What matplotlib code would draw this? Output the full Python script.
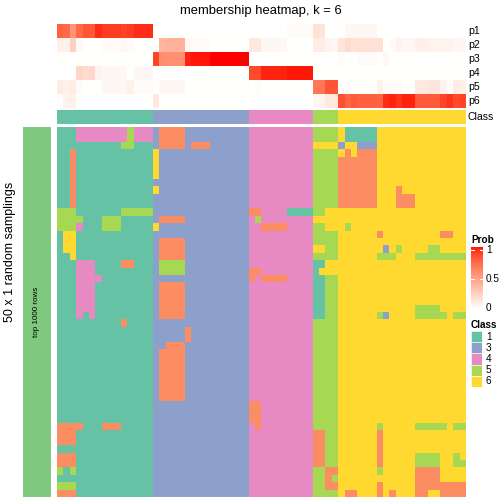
import numpy as np
import matplotlib
matplotlib.use("Agg")
import matplotlib.pyplot as plt
from matplotlib.colors import ListedColormap, LinearSegmentedColormap

plt.rcParams['font.family'] = ['Liberation Sans', 'DejaVu Sans']

# class of each column (consensus classes)
col_class = [1] * 15 + [3] * 15 + [4] * 10 + [5] * 4 + [6] * 20

# membership probabilities, one list per class row p1..p6 (64 columns)
p1 = [0.78, 0.74, 0.54, 0.74, 0.82, 0.80, 0.94, 0.90, 0.90, 0.90, 0.88, 0.90, 0.94, 0.94, 0.94,
      0, 0, 0, 0, 0, 0, 0, 0, 0, 0, 0, 0, 0, 0, 0,
      0, 0, 0, 0, 0, 0, 0.02, 0.02, 0.02, 0.02,
      0.16, 0.14, 0, 0,
      0, 0.04, 0.04, 0.04, 0.04, 0.04, 0, 0, 0, 0, 0, 0, 0, 0, 0, 0, 0, 0, 0, 0]
p2 = [0.08, 0.08, 0.24, 0.03, 0, 0, 0, 0.03, 0.03, 0.03, 0.04, 0.02, 0, 0, 0,
      0, 0.38, 0.40, 0.40, 0.40, 0.04, 0.02, 0.02, 0.02, 0, 0, 0, 0, 0, 0,
      0.12, 0.12, 0.04, 0.04, 0.04, 0.04, 0, 0, 0, 0,
      0.10, 0.10, 0.06, 0.04,
      0.14, 0.18, 0.16, 0.16, 0.16, 0.16, 0.16, 0, 0.02, 0.06, 0.04, 0.04, 0.08, 0.08, 0.06, 0.06,
      0.06, 0.06, 0.04, 0.04]
p3 = [0, 0, 0, 0, 0, 0, 0, 0, 0, 0, 0, 0, 0, 0, 0,
      0.88, 0.58, 0.56, 0.56, 0.56, 0.96, 0.98, 0.98, 0.98, 1, 1, 1, 1, 1, 1,
      0, 0, 0, 0, 0, 0, 0, 0, 0, 0,
      0, 0, 0, 0,
      0.02, 0, 0, 0.02, 0.02, 0.02, 0, 0.04, 0, 0, 0, 0, 0, 0, 0, 0, 0, 0, 0, 0]
p4 = [0, 0, 0, 0.22, 0.18, 0.20, 0.06, 0.04, 0.04, 0.04, 0.04, 0, 0.04, 0.04, 0.04,
      0, 0, 0, 0, 0, 0, 0, 0, 0, 0, 0, 0, 0, 0, 0,
      0.86, 0.86, 0.96, 0.96, 0.96, 0.96, 0.98, 0.98, 0.98, 0.98,
      0, 0, 0, 0,
      0, 0, 0, 0, 0, 0, 0, 0, 0, 0, 0, 0, 0, 0, 0, 0, 0, 0, 0, 0]
p5 = [0.10, 0.08, 0.10, 0.02, 0, 0, 0, 0.04, 0.04, 0.04, 0.04, 0.08, 0.02, 0.02, 0.02,
      0, 0.04, 0.04, 0.04, 0.04, 0, 0, 0, 0, 0, 0, 0, 0, 0, 0,
      0, 0.02, 0, 0, 0, 0, 0, 0, 0, 0,
      0.68, 0.68, 0.82, 0.82,
      0, 0.02, 0, 0, 0, 0, 0.08, 0.02, 0.02, 0.02, 0, 0, 0.12, 0.12, 0.14, 0.14,
      0.06, 0.02, 0.10, 0.08]
p6 = [0, 0.06, 0.08, 0, 0, 0, 0, 0, 0, 0, 0, 0, 0, 0, 0,
      0.12, 0, 0, 0, 0, 0, 0, 0, 0, 0, 0, 0, 0, 0, 0,
      0, 0, 0, 0, 0, 0, 0, 0, 0, 0,
      0.04, 0.06, 0.12, 0.12,
      0.84, 0.76, 0.80, 0.78, 0.78, 0.78, 0.76, 0.94, 0.96, 0.92, 0.96, 0.96, 0.80, 0.80, 0.80, 0.80,
      0.88, 0.92, 0.86, 0.88]

# class assignment in each of the 50 random samplings (rows), groups split by '|'
sampling_rows = [
    "111444444445444|322223333333333|4444444444|5555|61111166666666666666",
    "111444444445444|322223333333333|4444444444|5555|61111166666666666666",
    "111111111155111|322223222333333|4444444444|6666|36633366666666666666",
    "112111111111111|633333333333333|4444444444|5555|62622266666666666666",
    "112111111111111|633333333333333|4444444444|5555|22222266666666666666",
    "112111111111111|633333333333333|4444444444|5555|22222266666666666666",
    "112111111111111|633333333333333|4444444444|5555|22222266666666666666",
    "112111111111111|333333333333333|4444444444|5555|22222266666666666666",
    "112111111111111|633333333333333|4444444444|5555|22222266626666666666",
    "112111111111111|333333333333333|4444444444|5555|22222266622266666666",
    "112111111111111|333333333333333|4444444444|5555|22222266622266666666",
    "555111111155555|333333333333333|2244441111|5566|66666666666666666666",
    "555511155511111|322223333333333|4544444444|6666|66666666666666666666",
    "555411155511111|633333333333333|4422224444|5566|65666666666666666666",
    "166111111111111|333333333333333|4444444444|5555|66666626666666662266",
    "166111111111111|322223333333333|4444444444|5555|66666666666666666666",
    "166111111111111|322223333333333|4444444444|6655|66666663656666556666",
    "116111111111111|322223333333333|4444444444|5555|66666655566655555555",
    "111444111122111|355553333333333|4444444444|1166|66666666666666666666",
    "111444111111111|355553333333333|2244444444|1666|66666666666666666666",
    "111444411111111|333333333333333|2422224444|1155|66666666666666666666",
    "111444111111111|322223333333333|4444444444|1155|66666666666666666666",
    "111444111111111|322223333333333|4444444444|1155|66666666666666666666",
    "111444111111111|322223333333333|4444444444|1155|66666666666666666666",
    "111444111111111|322223333333333|4444444444|1155|66666666666655556666",
    "111414111111111|322223333333333|4444444444|1155|66666653666655555655",
    "111111111121111|333333333333333|4444444444|5555|66666666666666666666",
    "111111111111111|333332333333333|4444444444|5555|66666666666666666666",
    "111111111111111|333332333333333|4444444444|5555|66666666666666666666",
    "111111111111111|332223333333333|4444444444|5555|66666666666666666666",
    "111111111111111|322223333333333|4444444444|5555|66666666666666666666",
    "111111111111111|322223333333333|4444444444|5555|66666666666666666666",
    "111111111111111|322223333333333|4444444444|5555|66666666666666666666",
    "111111111111111|322223333333333|4444444444|5555|66666666666666666666",
    "111111111111111|322223333333333|4444444444|5555|66666666666666666666",
    "111111111111111|322223333333333|4444444444|5555|66666666666666666666",
    "111111111111111|322223333333333|4444444444|5555|66666666666666666666",
    "111111111111111|333333333333333|2244444444|5555|66666666666666666666",
    "111111111111111|333333333333333|2244444444|5555|66666666666666666666",
    "111111111111111|333333333333333|2244444444|5555|66666666666666666666",
    "222211122211111|333333333333333|4244444444|5555|66666656666655555655",
    "222111111111111|333333333333333|4444444444|2255|66666626666666666666",
    "222111111111111|333333333333333|4444444444|2255|66666626666666666666",
    "111111111111111|333333333333333|4444444444|2255|66666626666666666666",
    "222111111111111|333333333333333|4444444444|2255|66666626666655556656",
    "222111111111111|333333333333333|4444444444|2255|66666626666655556655",
    "515111111111111|333333333333333|4444444444|5522|66666656666622226666",
    "111111111111111|333333333333333|4444444444|5525|66666666666622226666",
    "555111111111111|333333333333333|4444444444|5522|66666626666622222222",
    "222111111111111|333333333333333|4444444444|5555|62266626266622662222",
]

prob_labels = ["p1", "p2", "p3", "p4", "p5", "p6"]
legend_classes = [1, 3, 4, 5, 6]
class_colors = {1: '#66C2A5', 2: '#FC8D62', 3: '#8DA0CB', 4: '#E78AC3', 5: '#A6D854', 6: '#FFD92F'}


# white -> red ramp interpolated in LAB space
def lab_to_rgb(L, a, b):
    fy = (L + 16) / 116.0
    fx = fy + a / 500.0
    fz = fy - b / 200.0

    def finv(t):
        return t ** 3 if t > 6 / 29 else 3 * (6 / 29) ** 2 * (t - 4 / 29)

    X, Y, Z = 0.95047 * finv(fx), finv(fy), 1.08883 * finv(fz)
    rgb = np.array([3.2406 * X - 1.5372 * Y - 0.4986 * Z,
                    -0.9689 * X + 1.8758 * Y + 0.0415 * Z,
                    0.0557 * X - 0.2040 * Y + 1.0570 * Z])
    rgb = np.where(rgb <= 0.0031308, 12.92 * rgb, 1.055 * np.abs(rgb) ** (1 / 2.4) - 0.055)
    return np.clip(rgb, 0, 1)


white_lab = np.array([100.0, 0.0, 0.0])
red_lab = np.array([53.24, 80.09, 67.20])
ramp = [lab_to_rgb(*(white_lab + t * (red_lab - white_lab))) for t in np.linspace(0, 1, 64)]
prob_cmap = LinearSegmentedColormap.from_list("prob", ramp)
class_cmap = ListedColormap([class_colors[k] for k in range(1, 7)])

W = H = 504.0
fig = plt.figure(figsize=(7, 7), dpi=72)


def px_axes(x0, y0, x1, y1):
    ax = fig.add_axes([x0 / W, 1 - y1 / H, (x1 - x0) / W, (y1 - y0) / H])
    ax.set_axis_off()
    return ax


X0, X1 = 56.7, 465.0

# membership probabilities
probs = np.array([p1, p2, p3, p4, p5, p6])
ax_p = px_axes(X0, 24, X1, 108)
ax_p.imshow(probs, cmap=prob_cmap, vmin=0, vmax=1, aspect='auto', interpolation='nearest')
for i, lab in enumerate(prob_labels):
    fig.text(468 / W, 1 - (31 + 14 * i) / H, lab, fontsize=10.5, va='center', ha='left')

# class annotation
ax_c = px_axes(X0, 110, X1, 124)
ax_c.imshow([col_class], cmap=class_cmap, vmin=0.5, vmax=6.5, aspect='auto', interpolation='nearest')
fig.text(468 / W, 1 - 117 / H, "Class", fontsize=10.5, va='center', ha='left')

# main heatmap of the samplings
mat = np.array([[int(ch) for ch in r.replace("|", "")] for r in sampling_rows])
ax_m = px_axes(X0, 126.7, X1, 496.7)
ax_m.imshow(mat, cmap=class_cmap, vmin=0.5, vmax=6.5, aspect='auto', interpolation='nearest')

# left side bar
ax_l = px_axes(22.7, 126.7, 50.7, 496.7)
ax_l.add_patch(plt.Rectangle((0, 0), 1, 1, color='#7FC97F'))
ax_l.set_xlim(0, 1)
ax_l.set_ylim(0, 1)
ax_l.text(0.5, 0.5, "top 1000 rows", rotation=90, fontsize=8, ha='center', va='center')
fig.text(10 / W, 1 - 252 / H, "50 x 1 random samplings", rotation=90, fontsize=12.5,
         ha='center', va='center')

fig.text(261 / W, 1 - 11 / H, "membership heatmap, k = 6", fontsize=13, ha='center', va='center')

# Prob legend
fig.text(471 / W, 1 - 240 / H, "Prob", fontsize=10, fontweight='bold', ha='left', va='center')
ax_cb = px_axes(471, 247, 483, 309)
grad = np.linspace(0, 1, 256)[:, None]
ax_cb.imshow(grad, cmap=prob_cmap, aspect='auto', origin='lower', extent=(0, 1, -0.01, 1.05))
ax_cb.set_xlim(0, 1)
ax_cb.set_ylim(-0.01, 1.05)
for v in [1.0, 0.5]:
    ax_cb.plot([0, 0.25], [v, v], color='white', lw=1)
    ax_cb.plot([0.75, 1], [v, v], color='white', lw=1)
for v, lab in [(1.0, "1"), (0.5, "0.5"), (0.0, "0")]:
    y = 309 - (v + 0.01) / 1.06 * 62
    fig.text(486 / W, 1 - y / H, lab, fontsize=10, ha='left', va='center')

# Class legend
fig.text(471 / W, 1 - 325 / H, "Class", fontsize=10, fontweight='bold', ha='left', va='center')
for i, k in enumerate(legend_classes):
    y0 = 331 + 11.2 * i
    ax_b = px_axes(471, y0, 482, y0 + 11.2)
    ax_b.add_patch(plt.Rectangle((0, 0), 1, 1, color=class_colors[k], ec='white', lw=0.5))
    ax_b.set_xlim(0, 1)
    ax_b.set_ylim(0, 1)
    fig.text(486 / W, 1 - (y0 + 5.6) / H, str(k), fontsize=10, ha='left', va='center')

fig.savefig("out.png", dpi=72)
